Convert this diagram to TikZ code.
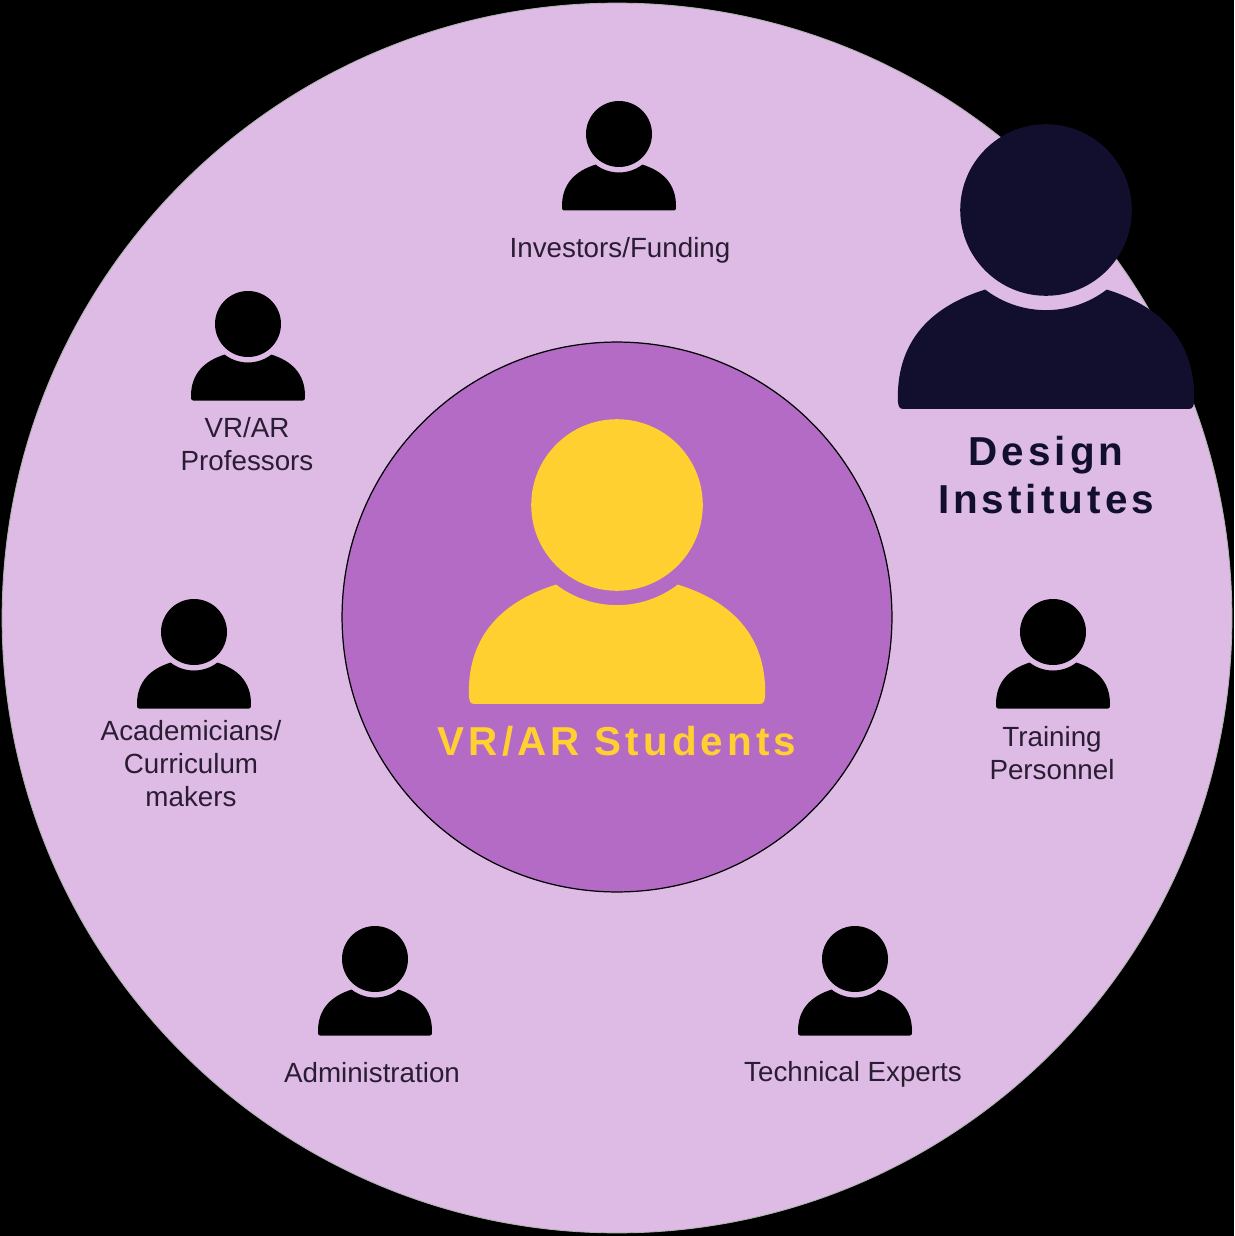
\documentclass[tikz,border=0pt]{standalone}
\usepackage{fontspec}
\setmainfont{Liberation Sans}
\newfontfamily\spacedfont[LetterSpace=10]{Liberation Sans}
\definecolor{outerfill}{HTML}{DDBBE5}
\definecolor{innerfill}{HTML}{B36BC5}
\definecolor{studentcol}{HTML}{FFD02F}
\definecolor{institutecol}{HTML}{120E2E}
\definecolor{labelcol}{HTML}{2A1C33}
\begin{document}
\begin{tikzpicture}[
    x=0.02cm, y=-0.02cm,
    label/.style={align=center, inner sep=0pt, text=labelcol, font=\fontsize{15.8}{18.8}\selectfont},
    biglabel/.style={align=center, inner sep=0pt, font=\fontsize{23}{27}\selectfont\spacedfont\bfseries},
    pics/person/.style={code={
        \fill[#1] (0,0) circle (33);
        \fill[#1] (-57,72) .. controls (-57,50) and (-44,37) .. (-23.4,30.6)
            arc (127.4:52.6:38.5)
            .. controls (44,37) and (57,50) .. (57,72)
            .. controls (57,75.5) and (56.5,76.5) .. (55,76.5) -- (-55,76.5)
            .. controls (-56.5,76.5) and (-57,75.5) .. (-57,72) -- cycle;
    }}
]

% Background and circles
\fill[black] (0,0) rectangle (1234,1236);
\node[circle, draw=gray!60, fill=outerfill, line width=0.5pt, minimum size=24.6cm, inner sep=0pt] (outer) at (617,618) {};
\node[circle, draw=black, fill=innerfill, line width=0.7pt, minimum size=11cm, inner sep=0pt] (inner) at (617,617) {};

% Centre
\pic (student) at (617,505) [scale=2.6] {person=studentcol};
\node[biglabel, text=studentcol] (studentlabel) at (617,741) {VR/AR Students};

% Design institutes
\pic (institute) at (1046,210) [scale=2.6] {person=institutecol};
\node[biglabel, text=institutecol] (institutelabel) at (1046,475) {Design\\Institutes};

% Stakeholders
\pic (investor) at (619,134) {person=black};
\node[label] (investorlabel) at (620,250) {Investors/Funding};

\pic (professor) at (248,324) {person=black};
\node[label] (professorlabel) at (247,444) {VR/AR\\Professors};

\pic (academic) at (194,632) {person=black};
\node[label] (academiclabel) at (191,764) {Academicians/\\Curriculum\\makers};

\pic (trainer) at (1053,632) {person=black};
\node[label] (trainerlabel) at (1052,753) {Training\\Personnel};

\pic (admin) at (375,959) {person=black};
\node[label] (adminlabel) at (372,1073) {Administration};

\pic (expert) at (855,959) {person=black};
\node[label] (expertlabel) at (853,1074) {Technical Experts};

\end{tikzpicture}
\end{document}
